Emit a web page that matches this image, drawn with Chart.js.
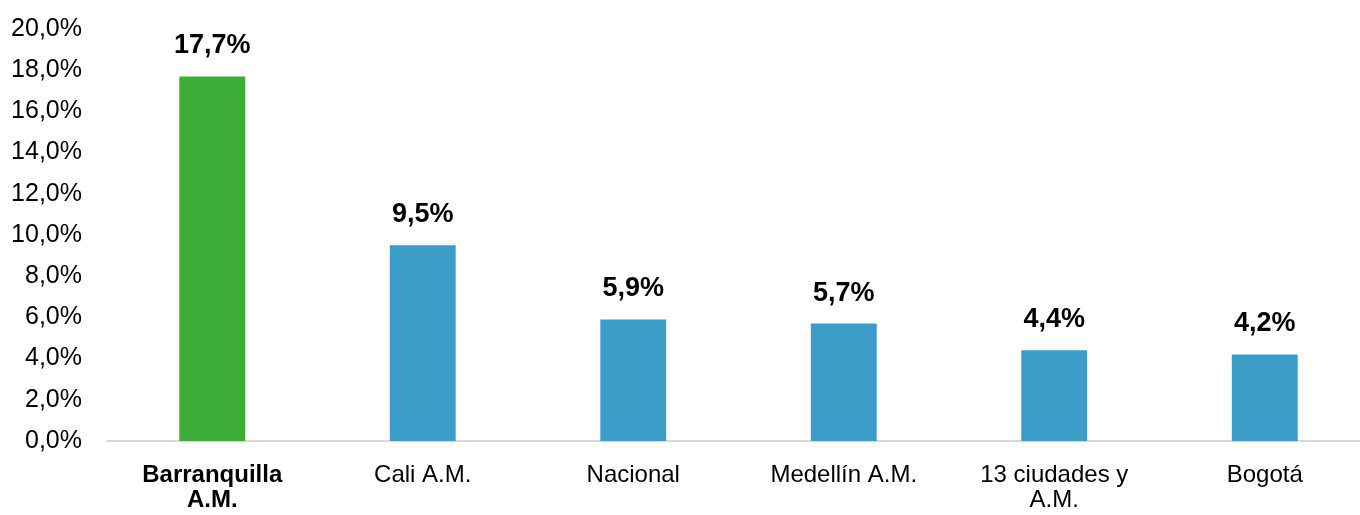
<!DOCTYPE html>
<html>
<head>
<meta charset="utf-8">
<script src="https://cdn.jsdelivr.net/npm/chart.js@4/dist/chart.umd.min.js"></script>
<style>
  html, body { margin: 0; padding: 0; background: #fff; overflow: hidden; }
  #box { width: 1371px; height: 515px; }
</style>
</head>
<body>
<div id="box"><canvas id="chart"></canvas></div>
<script>
// --- données ---
const categories = [["Barranquilla", "A.M."], "Cali A.M.", "Nacional", "Medellín A.M.", ["13 ciudades y", "A.M."], "Bogotá"];
const values = [17.7, 9.5, 5.9, 5.7, 4.4, 4.2];
const yTicks = [0, 2, 4, 6, 8, 10, 12, 14, 16, 18, 20];

const FONT = "'Liberation Sans', Arial, sans-serif";
const GREEN = "#3DAD37";
const BLUE = "#3B9CC8";

function fmt(v) {
  return v.toFixed(1).replace(".", ",") + "%";
}

// étiquettes au-dessus des barres
const valueLabels = {
  id: "valueLabels",
  afterDatasetsDraw(chart) {
    const ctx = chart.ctx;
    const meta = chart.getDatasetMeta(0);
    ctx.save();
    ctx.font = "bold 27px " + FONT;
    ctx.fillStyle = "#000";
    ctx.textAlign = "center";
    ctx.textBaseline = "alphabetic";
    meta.data.forEach((bar, i) => {
      ctx.fillText(fmt(values[i]), bar.x, bar.y - 23);
    });
    ctx.restore();
  }
};

new Chart(document.getElementById("chart"), {
  type: "bar",
  data: {
    labels: categories,
    datasets: [{
      data: values,
      backgroundColor: values.map((v, i) => i === 0 ? GREEN : BLUE),
      barPercentage: 0.313,
      categoryPercentage: 1
    }]
  },
  options: {
    responsive: true,
    maintainAspectRatio: false,
    animation: false,
    layout: { padding: { top: 29, right: 1, left: 0, bottom: 0 } },
    plugins: {
      legend: { display: false },
      tooltip: { enabled: false }
    },
    scales: {
      x: {
        grid: { display: true, drawOnChartArea: false, drawTicks: false },
        border: { display: true, color: "#D9D9D9", width: 2 },
        ticks: {
          color: "#000",
          padding: 22,
          maxRotation: 0,
          autoSkip: false,
          font: (c) => ({ family: FONT, size: 24, weight: c.index === 0 ? "bold" : "normal", lineHeight: 1.05 })
        },
        afterFit: (s) => { s.height = 74; }
      },
      y: {
        min: 0,
        max: 20,
        grid: { display: false },
        border: { display: false },
        afterBuildTicks: (s) => { s.ticks = yTicks.map(v => ({ value: v })); },
        ticks: {
          color: "#000",
          padding: 17,
          font: { family: FONT, size: 25 },
          callback: (v) => fmt(v)
        },
        afterFit: (s) => { s.width = 107; s.paddingTop = 0; s.paddingBottom = 0; }
      }
    }
  },
  plugins: [valueLabels]
});
</script>
</body>
</html>
